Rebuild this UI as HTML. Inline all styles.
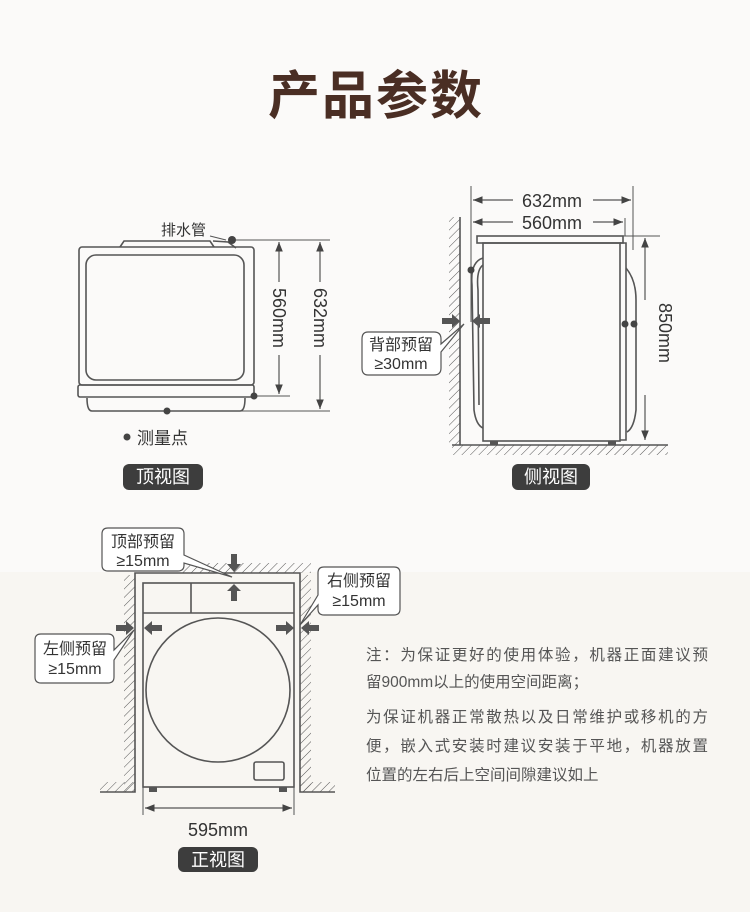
<!DOCTYPE html>
<html><head><meta charset="utf-8"><style>
html,body{margin:0;padding:0;}
body{width:750px;height:912px;overflow:hidden;background:#fbfaf9;}
svg{display:block;}
text{font-family:"Liberation Sans","Noto Sans CJK SC",sans-serif;}
</style></head><body>
<svg width="750" height="912" viewBox="0 0 750 912" xmlns="http://www.w3.org/2000/svg">
<defs>
<pattern id="h" width="6" height="6" patternUnits="userSpaceOnUse" patternTransform="rotate(45)">
<line x1="0" y1="0" x2="0" y2="6" stroke="#555" stroke-width="1"/>
</pattern>
<marker id="a" viewBox="0 0 10 10" refX="10" refY="5" markerWidth="8" markerHeight="8" orient="auto-start-reverse">
<path d="M0,1 L10,5 L0,9 Z" fill="#444"/>
</marker>
</defs>
<rect x="0" y="0" width="750" height="572" fill="#fbfaf9"/>
<rect x="0" y="572" width="750" height="340" fill="#f8f6f2"/>

<text x="376" y="114" font-size="52" font-weight="bold" fill="#4a2e24" text-anchor="middle" letter-spacing="2">产品参数</text>

<!-- TOP VIEW -->
<g stroke="#555" stroke-width="1.6" fill="none">
<path d="M120,247 L124,241 L210,241 L214,247"/>
<rect x="79" y="247" width="175" height="138" rx="3"/>
<rect x="86" y="255" width="158" height="125" rx="10"/>
<rect x="78" y="385" width="176" height="12" rx="2"/>
<path d="M87,398 Q87,411 92,411 L240,411 Q245,411 245,398"/>
<path d="M213,241 L228,242 L236,248"/>
<line x1="232" y1="240" x2="330" y2="240" stroke-width="1"/>
<line x1="255" y1="396" x2="290" y2="396" stroke-width="1"/>
<line x1="170" y1="411" x2="330" y2="411" stroke-width="1"/>
<line x1="279" y1="242" x2="279" y2="282" stroke-width="1.2" marker-start="url(#a)"/>
<line x1="279" y1="355" x2="279" y2="394" stroke-width="1.2" marker-end="url(#a)"/>
<line x1="320" y1="242" x2="320" y2="282" stroke-width="1.2" marker-start="url(#a)"/>
<line x1="320" y1="355" x2="320" y2="409" stroke-width="1.2" marker-end="url(#a)"/>
<line x1="210" y1="236" x2="226" y2="240" stroke-width="1"/>
</g>
<g fill="#444">
<circle cx="232" cy="240" r="4"/><circle cx="254" cy="396" r="3.5"/><circle cx="167" cy="411" r="3.5"/>
<circle cx="127" cy="437" r="3.5"/>
</g>
<text x="161" y="235" font-size="15" fill="#333">排水管</text>
<text transform="translate(273,318) rotate(90)" font-size="18" fill="#333" text-anchor="middle">560mm</text>
<text transform="translate(314,318) rotate(90)" font-size="18" fill="#333" text-anchor="middle">632mm</text>
<text x="137" y="444" font-size="17" fill="#333">测量点</text>
<rect x="123" y="464" width="80" height="26" rx="6" fill="#3d3d3d"/>
<text x="163" y="483" font-size="18" fill="#fff" text-anchor="middle">顶视图</text>

<!-- SIDE VIEW -->
<rect x="449" y="217" width="11" height="228" fill="url(#h)"/>
<rect x="452" y="445" width="216" height="10" fill="url(#h)"/>
<g stroke="#555" stroke-width="1.6" fill="none">
<line x1="460" y1="217" x2="460" y2="445"/>
<line x1="452" y1="445" x2="668" y2="445"/>
<rect x="477" y="236" width="146" height="7"/>
<rect x="483" y="243" width="137" height="198"/>
<path d="M620,243 L626,243 L626,440 L620,440"/>
<path d="M626,268 Q636,280 636,300 L636,410 Q634,428 627,432"/>
<path d="M483,258 Q470,262 472,285 L474,410 Q476,425 483,428"/>
<path d="M483,265 Q476,270 478,290 L479,405"/>
<line x1="471" y1="186" x2="471" y2="322" stroke-width="1"/>
<line x1="633" y1="186" x2="633" y2="250" stroke-width="1"/>
<line x1="625" y1="218" x2="625" y2="236" stroke-width="1"/>
<line x1="623" y1="236" x2="660" y2="236" stroke-width="1"/>
<line x1="473" y1="200" x2="513" y2="200" stroke-width="1.2" marker-start="url(#a)"/>
<line x1="593" y1="200" x2="631" y2="200" stroke-width="1.2" marker-end="url(#a)"/>
<line x1="473" y1="222" x2="513" y2="222" stroke-width="1.2" marker-start="url(#a)"/>
<line x1="593" y1="222" x2="623" y2="222" stroke-width="1.2" marker-end="url(#a)"/>
<line x1="645" y1="238" x2="645" y2="300" stroke-width="1.2" marker-start="url(#a)"/>
<line x1="645" y1="395" x2="645" y2="440" stroke-width="1.2" marker-end="url(#a)"/>
</g>
<rect x="490" y="441" width="8" height="4" fill="#555"/><rect x="608" y="441" width="8" height="4" fill="#555"/>
<g fill="#444"><circle cx="471" cy="270" r="3.5"/><circle cx="625" cy="324" r="3.5"/><circle cx="634" cy="324" r="3.5"/></g>
<path d="M442,318 L452,318 L452,314 L460,321 L452,328 L452,324 L442,324 Z" fill="#555"/>
<path d="M490,318 L480,318 L480,314 L472,321 L480,328 L480,324 L490,324 Z" fill="#555"/>
<text x="552" y="207" font-size="18" fill="#333" text-anchor="middle">632mm</text>
<text x="552" y="229" font-size="18" fill="#333" text-anchor="middle">560mm</text>
<text transform="translate(659,333) rotate(90)" font-size="18" fill="#333" text-anchor="middle">850mm</text>
<path d="M368,332 L434,332 Q441,332 441,339 L441,344 L464,324 L441,352 L441,368 Q441,375 434,375 L368,375 Q362,375 362,368 L362,339 Q362,332 368,332 Z" fill="#fff" stroke="#555" stroke-width="1.2"/>
<text x="401" y="350" font-size="16" fill="#333" text-anchor="middle">背部预留</text>
<text x="401" y="369" font-size="16" fill="#333" text-anchor="middle">≥30mm</text>
<rect x="512" y="464" width="78" height="26" rx="6" fill="#3d3d3d"/>
<text x="551" y="483" font-size="18" fill="#fff" text-anchor="middle">侧视图</text>

<!-- FRONT VIEW -->
<rect x="124" y="575" width="11" height="217" fill="url(#h)"/>
<rect x="300" y="575" width="11" height="217" fill="url(#h)"/>
<rect x="180" y="563" width="131" height="10" fill="url(#h)"/>
<rect x="100" y="792" width="35" height="10" fill="url(#h)" transform="translate(0,-10)"/>
<rect x="300" y="782" width="35" height="10" fill="url(#h)"/>
<g stroke="#555" stroke-width="1.6" fill="none">
<path d="M100,792 L135,792 L135,573 L300,573 L300,792 L335,792"/>
<rect x="143" y="583" width="151" height="204"/>
<line x1="143" y1="613" x2="294" y2="613"/>
<line x1="191" y1="583" x2="191" y2="613"/>
<circle cx="218" cy="690" r="72"/>
<rect x="254" y="762" width="30" height="18" rx="2"/>
<line x1="143" y1="787" x2="143" y2="815" stroke-width="1"/>
<line x1="294" y1="787" x2="294" y2="815" stroke-width="1"/>
<line x1="145" y1="808" x2="292" y2="808" stroke-width="1.2" marker-start="url(#a)" marker-end="url(#a)"/>
</g>
<rect x="149" y="787" width="8" height="5" fill="#555"/><rect x="279" y="787" width="8" height="5" fill="#555"/>
<g fill="#555">
<path d="M116,625 L126,625 L126,621 L134,628 L126,635 L126,631 L116,631 Z"/>
<path d="M162,625 L152,625 L152,621 L144,628 L152,635 L152,631 L162,631 Z"/>
<path d="M276,625 L286,625 L286,621 L294,628 L286,635 L286,631 L276,631 Z"/>
<path d="M319,625 L309,625 L309,621 L301,628 L309,635 L309,631 L319,631 Z"/>
<path d="M231,554 L231,564 L227,564 L234,572 L241,564 L237,564 L237,554 Z"/>
<path d="M231,601 L231,591 L227,591 L234,584 L241,591 L237,591 L237,601 Z"/>
</g>
<path d="M108,528 L178,528 Q184,528 184,534 L184,555 L232,577 L184,563 L184,565 Q184,571 178,571 L108,571 Q102,571 102,565 L102,534 Q102,528 108,528 Z" fill="#fff" stroke="#555" stroke-width="1.2"/>
<text x="143" y="547" font-size="16" fill="#333" text-anchor="middle">顶部预留</text>
<text x="143" y="566" font-size="16" fill="#333" text-anchor="middle">≥15mm</text>
<path d="M324,567 L394,567 Q400,567 400,573 L400,609 Q400,615 394,615 L324,615 Q318,615 318,609 L318,605 L300,625 L318,595 L318,573 Q318,567 324,567 Z" fill="#fff" stroke="#555" stroke-width="1.2"/>
<text x="359" y="586" font-size="16" fill="#333" text-anchor="middle">右侧预留</text>
<text x="359" y="606" font-size="16" fill="#333" text-anchor="middle">≥15mm</text>
<path d="M41,634 L108,634 Q114,634 114,640 L114,650 L134,630 L114,660 L114,677 Q114,683 108,683 L41,683 Q35,683 35,677 L35,640 Q35,634 41,634 Z" fill="#fff" stroke="#555" stroke-width="1.2"/>
<text x="75" y="654" font-size="16" fill="#333" text-anchor="middle">左侧预留</text>
<text x="75" y="674" font-size="16" fill="#333" text-anchor="middle">≥15mm</text>
<text x="218" y="836" font-size="18" fill="#333" text-anchor="middle">595mm</text>
<rect x="178" y="847" width="80" height="25" rx="6" fill="#3d3d3d"/>
<text x="218" y="866" font-size="18" fill="#fff" text-anchor="middle">正视图</text>

<g font-size="15.5" fill="#555">
<text x="366" y="660" textLength="342" lengthAdjust="spacing">注：为保证更好的使用体验，机器正面建议预</text>
<text x="366" y="687">留900mm以上的使用空间距离；</text>
<text x="366" y="722" textLength="342" lengthAdjust="spacing">为保证机器正常散热以及日常维护或移机的方</text>
<text x="366" y="751" textLength="342" lengthAdjust="spacing">便，嵌入式安装时建议安装于平地，机器放置</text>
<text x="366" y="780">位置的左右后上空间间隙建议如上</text>
</g>
</svg>
</body></html>
